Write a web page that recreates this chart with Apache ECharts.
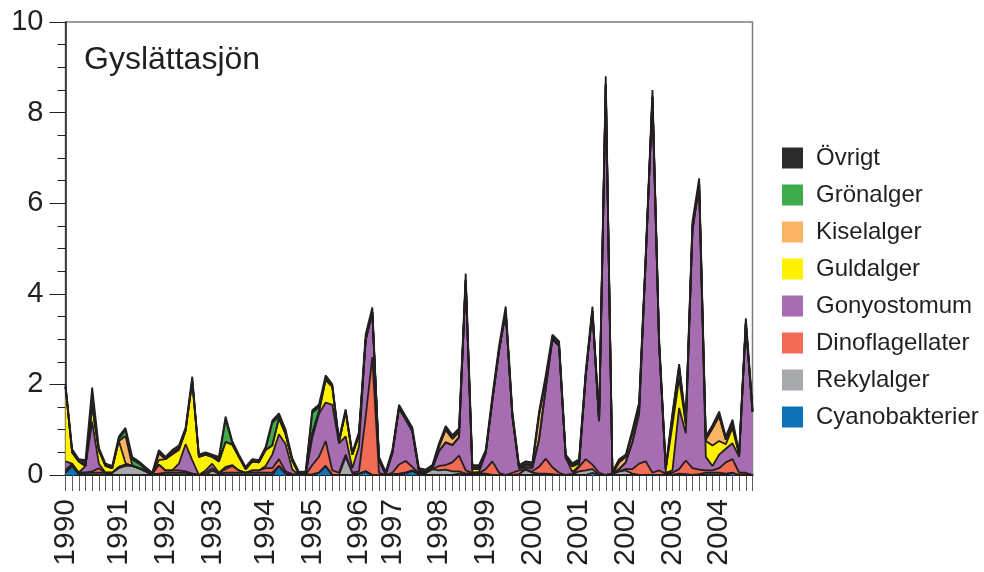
<!DOCTYPE html>
<html>
<head>
<meta charset="utf-8">
<script src="https://cdn.jsdelivr.net/npm/echarts@6/dist/echarts.min.js"></script>
<style>
  html, body { margin: 0; padding: 0; background: #ffffff; }
  #chart { width: 984px; height: 572px; }
</style>
</head>
<body>
<div id="chart"></div>
<script>
// Year labels and the sample index where each year starts
const yearLabels = ['1990','1991','1992','1993','1994','1995','1996','1997','1998','1999','2000','2001','2002','2003','2004'];
const yearStartIdx = [0, 8, 15, 22, 30, 37, 44, 49, 56, 63, 70, 77, 84, 91, 98];

// Biovolume (mm3/l) per sample, one array per algal group
const cyanobakterier = [0.05,0.2,0,0,0,0,0,0,0,0, 0,0,0,0,0,0,0,0,0,0, 0,0,0,0,0,0,0,0,0,0, 0,0,0.2,0.03,0,0,0,0,0.05,0.2, 0,0,0,0,0.03,0.08,0,0,0,0, 0,0.03,0.1,0,0,0,0,0,0,0.03, 0,0,0,0,0,0,0,0,0,0, 0,0,0,0,0,0,0,0,0,0.05, 0,0,0,0,0,0,0,0,0,0, 0,0,0,0,0,0,0,0,0,0, 0.05,0,0,0];
const rekylalger = [0,0,0.05,0.05,0.05,0.05,0.05,0.05,0.15,0.2, 0.2,0.15,0.08,0.02,0.03,0.05,0.05,0.05,0.05,0.03, 0,0,0.1,0.03,0.05,0.05,0.05,0.05,0.05,0.05, 0.05,0.05,0,0,0,0,0,0.02,0,0, 0,0,0.4,0.05,0,0,0,0,0,0.02, 0.03,0.03,0,0.03,0.05,0.13,0.1,0.12,0.08,0.05, 0.03,0.05,0.04,0.03,0,0,0,0,0.02,0.12, 0.05,0.03,0.03,0.02,0,0,0.02,0.08,0.1,0.08, 0,0,0.03,0.08,0.1,0.03,0,0,0,0, 0,0,0.03,0.02,0,0.02,0.05,0.05,0.05,0.03, 0,0,0,0];
const dinoflagellater = [0.05,0.05,0,0,0.03,0.1,0,0,0.03,0.03, 0,0,0,0,0.2,0.05,0.05,0.05,0.03,0, 0,0.05,0.05,0.02,0.08,0.15,0.05,0,0.05,0.05, 0.1,0.1,0.15,0.05,0.02,0,0,0.2,0.35,0.55, 0.1,0.05,0.05,0,0.05,1.2,2.6,0.05,0,0.03, 0.2,0.25,0.08,0,0,0,0.1,0.1,0.2,0.35, 0.07,0,0,0.1,0.3,0.05,0,0.05,0.08,0, 0.03,0.15,0.33,0.15,0.05,0,0,0.1,0.25,0.1, 0.05,0,0,0,0.03,0.1,0.25,0.3,0.05,0.1, 0.03,0.05,0.1,0.3,0.15,0.1,0.05,0.05,0.1,0.25, 0.3,0.05,0.05,0];
const gonyostomum = [0.2,0,0,0.15,1.1,0.1,0,0,0,0, 0,0,0,0,0,0,0,0.15,0.6,0.3, 0,0.05,0.1,0,0.05,0.02,0,0,0,0, 0.05,0.3,0.55,0.6,0.1,0,0,0.6,0.95,0.85, 1.45,0.65,0.4,0.1,0.55,1.7,1.0,0.28,0.02,0.43, 1.25,0.92,0.79,0.05,0,0.02,0.33,0.5,0.38,0.4, 4.2,0,0.03,0.35,1.35,2.7,3.6,1.25,0.05,0.05, 0.08,0.6,1.55,2.83,2.8,0.38,0.05,0.02,1.85,3.39, 1.14,8.62,0,0.05,0.15,0.6,1.1,4.5,8.3,2.8, 0.02,0.05,1.35,0.6,5.25,6.3,0.3,0.1,0.3,0.3, 0.35,0.35,3.3,1.4];
const guldalger = [1.65,0.25,0.25,0,0.35,0.3,0.15,0.1,0.57,0.03, 0,0,0.02,0,0.1,0.25,0.35,0.3,0.3,1.75, 0.4,0.35,0.15,0.25,0.55,0.45,0.3,0.08,0.2,0.18, 0.35,0.2,0.35,0.22,0.2,0.02,0.03,0.1,0.05,0.5, 0.4,0.03,0.55,0.3,0.25,0,0,0,0,0, 0,0,0,0,0,0,0,0,0,0, 0,0.08,0.06,0,0,0,0,0,0,0, 0,0,0,0,0,0,0.12,0.05,0,0, 0,0,0,0,0,0,0,0,0,0, 0.08,1.0,0.65,0.2,0,0,0.35,0.45,0.3,0.1, 0.35,0.05,0,0];
const kiselalger = [0,0,0,0,0,0,0,0,0,0.6, 0.02,0,0,0,0.15,0,0.05,0.02,0,0, 0,0,0,0,0,0,0,0,0,0, 0,0,0,0,0,0,0,0,0,0, 0,0,0,0,0,0,0,0,0,0, 0,0,0,0,0,0,0.1,0.28,0.14,0.12, 0,0.02,0.02,0,0,0,0,0,0,0.05, 0.05,0.55,0.2,0,0,0,0,0.05,0,0, 0,0,0,0.15,0.12,0.2,0.15,0,0,0, 0,0.2,0.25,0.02,0.1,0,0.03,0.38,0.55,0.1, 0,0,0,0];
const gronalger = [0,0,0,0,0,0,0,0,0.05,0.13, 0.13,0.1,0.03,0,0,0,0,0,0,0, 0,0,0,0.05,0.5,0.03,0,0,0,0, 0.02,0.5,0.05,0,0,0,0,0.45,0.1,0, 0,0,0,0,0,0,0,0,0,0, 0,0,0,0,0,0,0,0,0,0, 0,0,0,0,0,0,0,0,0,0, 0,0,0,0,0,0,0,0,0,0, 0,0,0,0,0,0,0,0,0,0, 0,0,0,0,0,0,0,0,0,0, 0.1,0,0,0];
const ovrigt = [0.05,0.07,0.05,0.13,0.4,0.05,0.05,0.05,0.05,0.05, 0.05,0.05,0.04,0.03,0.07,0.05,0.05,0.08,0.06,0.09, 0.05,0.05,0.05,0.05,0.06,0.05,0.05,0.05,0.05,0.05, 0.05,0.05,0.06,0.1,0.05,0.05,0.05,0.06,0.05,0.1, 0.05,0.07,0.05,0.05,0.07,0.12,0.1,0.07,0.05,0.07, 0.07,0.07,0.08,0.07,0.07,0.07,0.07,0.08,0.08,0.08, 0.15,0.07,0.07,0.07,0.1,0.1,0.12,0.1,0.07,0.08, 0.07,0.07,0.09,0.1,0.1,0.07,0.07,0.05,0.1,0.1, 0.1,0.18,0.05,0.07,0.05,0.07,0.1,0.1,0.15,0.1, 0.07,0.07,0.07,0.06,0.1,0.13,0.07,0.07,0.1,0.07, 0.07,0.05,0.11,0.1];

// One category per sample; only the first sample of each year carries a label
const categories = cyanobakterier.map((_, i) => {
  const k = yearStartIdx.indexOf(i);
  return k >= 0 ? yearLabels[k] : '';
});

const FONT = '"Liberation Sans", Arial, Helvetica, sans-serif';
const INK = '#231f20';

const groups = [
  { name: 'Cyanobakterier', data: cyanobakterier, color: '#0e72b9' },
  { name: 'Rekylalger', data: rekylalger, color: '#a7a9ac' },
  { name: 'Dinoflagellater', data: dinoflagellater, color: '#f26b55' },
  { name: 'Gonyostomum', data: gonyostomum, color: '#a66db1' },
  { name: 'Guldalger', data: guldalger, color: '#fff200' },
  { name: 'Kiselalger', data: kiselalger, color: '#fbb464' },
  { name: 'Grönalger', data: gronalger, color: '#3fac4b' },
  { name: 'Övrigt', data: ovrigt, color: '#2b2b2b' }
];

const chart = echarts.init(document.getElementById('chart'), null, { renderer: 'canvas' });

chart.setOption({
  animation: false,
  backgroundColor: '#ffffff',
  textStyle: { fontFamily: FONT },
  title: {
    text: 'Gyslättasjön',
    left: 84,
    top: 44,
    padding: 0,
    textStyle: { fontFamily: FONT, fontSize: 32, fontWeight: 'normal', color: INK }
  },
  legend: {
    orient: 'vertical',
    left: 782,
    top: 146,
    padding: 0,
    itemWidth: 21,
    itemHeight: 21,
    itemGap: 13,
    icon: 'rect',
    selectedMode: false,
    data: groups.map(g => g.name).reverse(),
    itemStyle: { borderWidth: 0 },
    textStyle: { fontFamily: FONT, fontSize: 24, color: INK, lineHeight: 21, padding: [0, 0, 0, 8] }
  },
  grid: {
    left: 65.5,
    right: 231.5,
    top: 22,
    bottom: 97,
    show: true,
    borderColor: '#7d7d7d',
    borderWidth: 1.5,
    containLabel: false
  },
  xAxis: {
    type: 'category',
    data: categories,
    boundaryGap: false,
    axisLine: { show: true, lineStyle: { color: INK, width: 2 } },
    axisTick: { show: true, interval: 0, length: 16, lineStyle: { color: '#5a5a5a', width: 1 } },
    axisLabel: {
      interval: (index, value) => value !== '',
      rotate: 90,
      margin: 24,
      fontFamily: FONT,
      fontSize: 30,
      color: INK
    },
    splitLine: { show: false }
  },
  yAxis: {
    type: 'value',
    min: 0,
    max: 10,
    interval: 2,
    axisLine: { show: true, lineStyle: { color: INK, width: 1.5 } },
    axisTick: { show: true, length: 16, lineStyle: { color: INK, width: 1 } },
    minorTick: { show: true, splitNumber: 4, length: 8, lineStyle: { color: INK, width: 1 } },
    axisLabel: { margin: 22, fontFamily: FONT, fontSize: 29, color: INK },
    splitLine: { show: false },
    minorSplitLine: { show: false }
  },
  series: groups.map(g => ({
    name: g.name,
    type: 'line',
    stack: 'total',
    data: g.data,
    symbol: 'none',
    showSymbol: false,
    smooth: false,
    itemStyle: { color: g.color },
    lineStyle: { color: INK, width: 1.8 },
    areaStyle: { color: g.color, opacity: 1 },
    emphasis: { disabled: true }
  }))
});
</script>
</body>
</html>
